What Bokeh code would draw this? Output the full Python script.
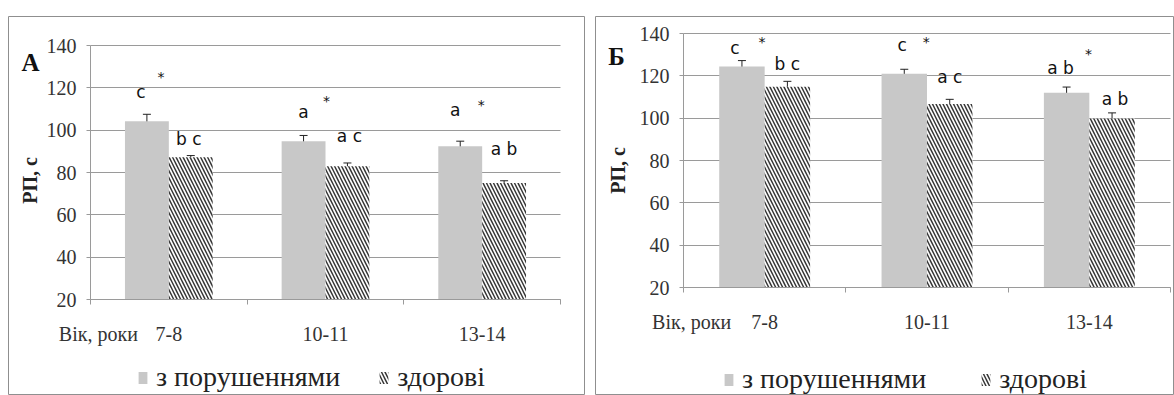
import numpy as np
from bokeh.plotting import figure
from bokeh.models import (Range1d, FixedTicker, Whisker, TeeHead, ColumnDataSource,
                          Legend, LegendItem, Label, BoxAnnotation)
from bokeh.core.properties import value
from bokeh.embed import file_html
from bokeh.resources import INLINE

# ---------------- data ----------------
categories = ["7-8", "10-11", "13-14"]
series_names = ["з порушеннями", "здорові"]
y_ticks = [20, 40, 60, 80, 100, 120, 140]
x_title = "Вік, роки"
y_title = "РП, с"
panel_letters = ["А", "Б"]

a_impaired = [104.2, 94.8, 92.4]
a_impaired_err = [3.3, 2.7, 2.4]
a_healthy = [87.2, 83.0, 75.0]
a_healthy_err = [0.8, 1.5, 1.1]
a_impaired_lbl = ["c", "a", "a"]
a_healthy_lbl = ["b c", "a c", "a b"]
a_star = ["*", "*", "*"]

b_impaired = [124.4, 121.0, 112.0]
b_impaired_err = [2.8, 2.1, 2.7]
b_healthy = [114.8, 106.7, 99.8]
b_healthy_err = [2.6, 2.2, 2.7]
b_impaired_lbl = ["c", "c", "a b"]
b_healthy_lbl = ["b c", "a c", "a b"]
b_star = ["*", "*", "*"]

# ---------------- style ----------------
GRAY = "#c8c8c8"
HATCH = "#383838"
GRID = "#9a9a9a"
SERIF = "Liberation Serif"
SANS = "DejaVu Sans"
PAGE_TOP = 8
BOX_TOP = 16
PAGE_BOTTOM = 395


def make_panel(letter, imp, imp_err, hea, hea_err, imp_lbl, hea_lbl, stars, g):
    n = len(categories)
    left, W = g["left"], g["W"]
    H = PAGE_BOTTOM - PAGE_TOP
    ax, ex = g["axis_x"], g["end_x"]
    ytp, ybp = g["ytop_px"], g["ybot_px"]
    cat_w = (ex - ax) / n
    ppu = (ybp - ytp) / (y_ticks[-1] - y_ticks[0])

    def X(px):
        return (px - ax) / cat_w

    def Y(py):
        return y_ticks[-1] - (py - ytp) / ppu

    p = figure(width=W, height=H, output_backend="svg", toolbar_location=None,
               x_range=Range1d(X(left), X(left + W)),
               y_range=Range1d(Y(PAGE_BOTTOM), Y(BOX_TOP)),
               min_border_left=0, min_border_right=0,
               min_border_top=BOX_TOP - PAGE_TOP, min_border_bottom=0)
    p.styles = {"position": "absolute", "left": f"{left}px", "top": f"{PAGE_TOP}px"}
    p.outline_line_color = "#8f8f8f"
    p.outline_line_width = 1
    p.background_fill_color = "white"
    p.border_fill_color = "white"

    xi = np.arange(n) + 0.5
    off = 0.14
    bw = 0.28
    base = y_ticks[0]

    src = ColumnDataSource(dict(
        xg=xi - off, xh=xi + off,
        imp=imp, hea=hea,
        imp_lo=np.array(imp) - np.array(imp_err), imp_hi=np.array(imp) + np.array(imp_err),
        hea_lo=np.array(hea) - np.array(hea_err), hea_hi=np.array(hea) + np.array(hea_err),
    ))

    r_g = p.vbar(x="xg", top="imp", bottom=base, width=bw, source=src,
                 fill_color=GRAY, line_color=None)
    r_h = p.vbar(x="xh", top="hea", bottom=base, width=bw, source=src,
                 fill_color="white", line_color=None,
                 hatch_pattern="\\", hatch_color=HATCH, hatch_scale=7, hatch_weight=1.5)

    for lo, hi, xx in (("imp_lo", "imp_hi", "xg"), ("hea_lo", "hea_hi", "xh")):
        w = Whisker(source=src, base=xx, lower=lo, upper=hi,
                    line_color="#222222", line_width=1,
                    upper_head=TeeHead(size=8, line_color="#222222", line_width=1),
                    lower_head=TeeHead(size=8, line_color="#222222", line_width=1))
        p.add_layout(w)

    # significance letters and stars
    def lbl(texts, xs, tops, dx, dy, size, adj=0.0):
        xs2 = [x + d / cat_w for x, d in zip(xs, dx)]
        ys2 = [t + (d - adj) / ppu for t, d in zip(tops, dy)]
        p.text(x=xs2, y=ys2, text=texts, text_font=value(SANS), text_font_size=size,
               text_color="#111111", text_align="center", text_baseline="middle")

    imp_top = list(np.array(imp) + np.array(imp_err))
    hea_top = list(np.array(hea) + np.array(hea_err))
    lbl(imp_lbl, xi - off, imp_top, g["dx_g"], g["dy_g"], "17px")
    lbl(hea_lbl, xi + off, hea_top, g["dx_h"], g["dy_h"], "17px")
    lbl(stars, xi - off, imp_top, g["dx_s"], g["dy_s"], "14px", adj=4)

    # grid
    p.xgrid.grid_line_color = None
    p.ygrid.grid_line_color = GRID
    p.ygrid.grid_line_width = 1
    p.ygrid.ticker = FixedTicker(ticks=y_ticks)
    try:
        p.ygrid.cross_bounds = (0, n)
    except Exception:
        for r in (BoxAnnotation(right=0, fill_color="white", fill_alpha=1, line_color=None, level="glyph"),
                  BoxAnnotation(left=n, fill_color="white", fill_alpha=1, line_color=None, level="glyph")):
            p.add_layout(r)

    # axes drawn at data positions inside the frame
    p.yaxis.fixed_location = 0
    p.yaxis.bounds = (y_ticks[0], y_ticks[-1])
    p.yaxis.ticker = FixedTicker(ticks=y_ticks)
    p.yaxis.major_label_text_font = SERIF
    p.yaxis.major_label_text_font_size = "20px"
    p.yaxis.major_label_text_color = "#333333"
    p.yaxis.major_label_standoff = 10
    p.yaxis.major_tick_out = 4
    p.yaxis.major_tick_in = 0
    p.yaxis.major_tick_line_color = GRID
    p.yaxis.minor_tick_line_color = None
    p.yaxis.axis_line_color = GRID

    p.xaxis.fixed_location = y_ticks[0]
    p.xaxis.bounds = (0, n)
    xt = [0.05] + list(xi)
    p.xaxis.ticker = FixedTicker(ticks=xt, minor_ticks=list(range(n + 1)))
    over = {0.05: x_title}
    for k, c in enumerate(categories):
        over[float(xi[k])] = c
    p.xaxis.major_label_overrides = over
    p.xaxis.major_label_text_font = SERIF
    p.xaxis.major_label_text_font_size = "20px"
    p.xaxis.major_label_text_color = "#333333"
    p.xaxis.major_tick_line_color = None
    p.xaxis.major_tick_out = 0
    p.xaxis.major_tick_in = 0
    p.xaxis.major_label_standoff = 18
    p.xaxis.minor_tick_line_color = GRID
    p.xaxis.minor_tick_out = 5
    p.xaxis.minor_tick_in = 0
    p.xaxis.axis_line_color = GRID

    # panel letter and y title
    lx, ly = g["letter"]
    p.add_layout(Label(x=X(lx), y=Y(ly), text=letter,
                       text_font=SERIF, text_font_style="bold", text_font_size="25px",
                       text_color="#111111", text_align="center", text_baseline="middle"))
    tx, ty = g["ytitle"]
    p.add_layout(Label(x=X(tx), y=Y(ty), text=y_title, angle=np.pi / 2,
                       text_font=SERIF, text_font_style="bold", text_font_size="20px",
                       text_color="#222222", text_align="center", text_baseline="middle"))

    # legend
    gl, gb = g["leg"]
    leg = Legend(items=[LegendItem(label=series_names[0], renderers=[r_g]),
                        LegendItem(label=series_names[1], renderers=[r_h])],
                 orientation="horizontal", location=(gl - left, PAGE_BOTTOM - gb),
                 spacing=g["leg_sp"], label_standoff=8, glyph_width=11, glyph_height=15,
                 padding=0, margin=0, border_line_color=None, background_fill_alpha=0,
                 label_text_font=SERIF, label_text_font_size="28px", label_text_color="#222222")
    p.add_layout(leg)
    return p


geom_a = dict(left=8, W=577, axis_x=90, end_x=560, ytop_px=45, ybot_px=299,
              dx_g=[-6, 0, -5], dy_g=[22, 23, 31],
              dx_h=[-2, 2, 0], dy_h=[17, 27, 32],
              dx_s=[14, 23, 21], dy_s=[41, 38, 40],
              letter=(30, 62), ytitle=(29, 180),
              leg=(137, 393), leg_sp=38)
geom_b = dict(left=595, W=579, axis_x=683, end_x=1170, ytop_px=33, ybot_px=287,
              dx_g=[-7, -2, -6], dy_g=[13, 24, 19],
              dx_h=[0, 0, 3], dy_h=[17, 22, 14],
              dx_s=[20, 22, 22], dy_s=[23, 31, 37],
              letter=(616, 56), ytitle=(617, 170),
              leg=(723, 395), leg_sp=54)

pa = make_panel(panel_letters[0], a_impaired, a_impaired_err, a_healthy, a_healthy_err,
                a_impaired_lbl, a_healthy_lbl, a_star, geom_a)
pb = make_panel(panel_letters[1], b_impaired, b_impaired_err, b_healthy, b_healthy_err,
                b_impaired_lbl, b_healthy_lbl, b_star, geom_b)

open("out.html", "w").write(file_html([pa, pb], INLINE))
